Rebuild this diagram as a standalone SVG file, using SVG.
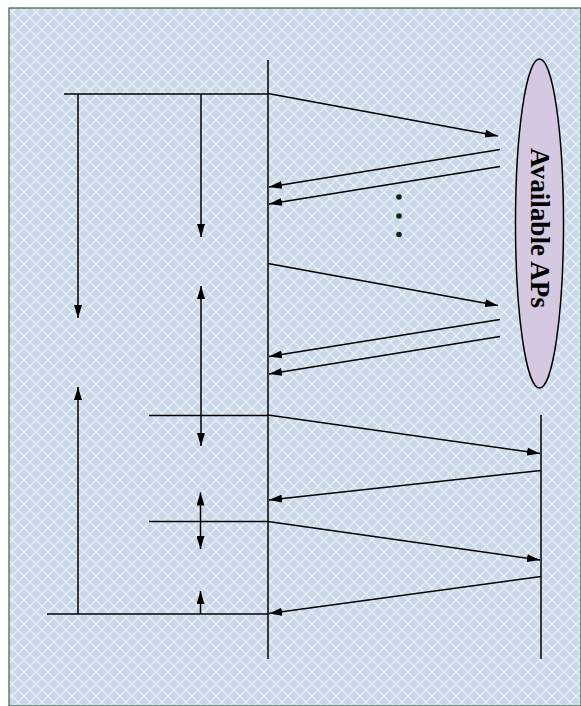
<svg xmlns="http://www.w3.org/2000/svg" width="581" height="706" viewBox="0 0 581 706">
<style>
.ln{stroke:#000;stroke-width:1.5;fill:none}
.ar{stroke:#000;stroke-width:1.5;fill:none;marker-end:url(#ah)}
.dar{stroke:#000;stroke-width:1.5;fill:none;marker-end:url(#ah);marker-start:url(#ahs)}
.lbl{font-family:"Liberation Serif","Times New Roman",serif;font-weight:bold;font-size:27px;fill:#000}
</style>
<defs>
<pattern id="bg" width="12" height="12" patternUnits="userSpaceOnUse">
<rect width="12" height="12" fill="#c9d8e8"/>
<path d="M0 0L12 12M12 0L0 12" stroke="#f2f6fb" stroke-width="1.6" stroke-dasharray="1.3 0.7"/>
</pattern>
<marker id="ah" viewBox="0 0 13 8" refX="13" refY="4" markerWidth="13" markerHeight="8" markerUnits="userSpaceOnUse" orient="auto">
<path d="M0 0L13 4L0 8z" fill="#000"/>
</marker>
<marker id="ahs" viewBox="0 0 13 8" refX="0" refY="4" markerWidth="13" markerHeight="8" markerUnits="userSpaceOnUse" orient="auto">
<path d="M13 0L0 4L13 8z" fill="#000"/>
</marker>
</defs>
<rect x="9" y="8" width="572" height="698" fill="url(#bg)" stroke="#36603f" stroke-width="1.2"/>
<g id="station">
<line class="ln" x1="268" y1="60" x2="268" y2="659"/>
</g>
<g id="available-aps">
<ellipse cx="539.5" cy="223.5" rx="24" ry="164.5" fill="#d5c9e1" stroke="#000" stroke-width="1.5"/>
<text class="lbl" transform="translate(531,228) rotate(90)" text-anchor="middle" textLength="160" lengthAdjust="spacingAndGlyphs">Available APs</text>
</g>
<g id="target-ap">
<line class="ln" x1="541" y1="415" x2="541" y2="659"/>
</g>
<g id="dots">
<circle cx="399" cy="197" r="2.8" fill="#0a2a14"/>
<circle cx="399" cy="216" r="2.8" fill="#0a2a14"/>
<circle cx="399" cy="234.5" r="2.8" fill="#0a2a14"/>
</g>
<g id="connectors">
<line class="ar" x1="268" y1="93.5" x2="498" y2="136"/>
<line class="ar" x1="500" y1="149.5" x2="269" y2="187"/>
<line class="ar" x1="500" y1="166.5" x2="269" y2="204"/>
<line class="ar" x1="268" y1="263.5" x2="498" y2="305.5"/>
<line class="ar" x1="500" y1="319.5" x2="269" y2="356.5"/>
<line class="ar" x1="500" y1="336.5" x2="269" y2="374"/>
<line class="ar" x1="268" y1="415" x2="540" y2="453.5"/>
<line class="ar" x1="541" y1="470.5" x2="269" y2="500"/>
<line class="ar" x1="268" y1="521.5" x2="540" y2="560"/>
<line class="ar" x1="541" y1="576.5" x2="269" y2="613.5"/>
<line class="ln" x1="64" y1="94" x2="268" y2="94"/>
<line class="ar" x1="78" y1="94" x2="78" y2="318"/>
<line class="ar" x1="201" y1="94" x2="201" y2="237"/>
<line class="ln" x1="149" y1="415.5" x2="268" y2="415.5"/>
<line class="dar" x1="201" y1="286" x2="201" y2="446"/>
<line class="ln" x1="149" y1="521.5" x2="268" y2="521.5"/>
<line class="dar" x1="200.5" y1="492.5" x2="200.5" y2="549"/>
<line class="ln" x1="47" y1="614" x2="268" y2="614"/>
<line class="ar" x1="78" y1="614" x2="78" y2="387"/>
<line class="ar" x1="200.5" y1="614" x2="200.5" y2="591"/>
</g>
</svg>
